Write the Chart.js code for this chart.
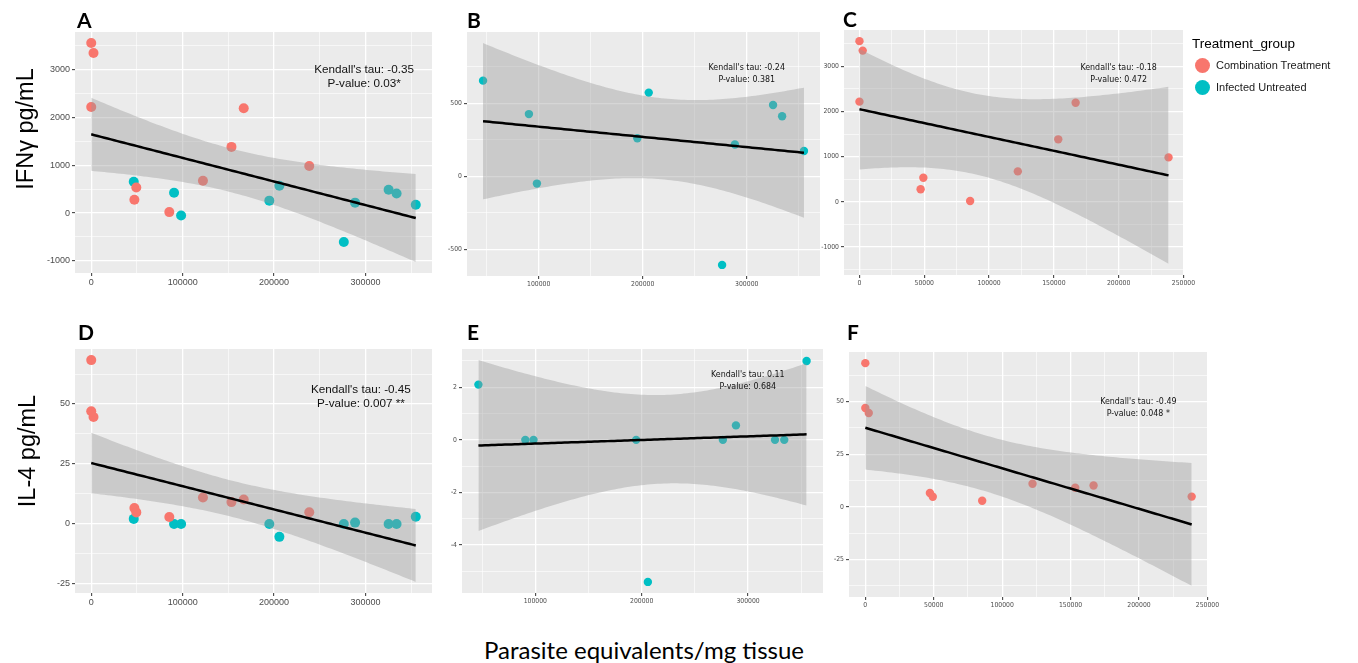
<!DOCTYPE html>
<html><head><meta charset="utf-8">
<script src="https://cdn.jsdelivr.net/npm/chart.js@4.4.1/dist/chart.umd.min.js"></script>
<style>
html,body{margin:0;padding:0;background:#fff;}
body{width:1358px;height:663px;position:relative;overflow:hidden;font-family:'Liberation Sans',Arial,sans-serif;color:#000;}
canvas{position:absolute;}
.t{position:absolute;white-space:nowrap;}
.letter{font-family:Lato,'Liberation Sans',sans-serif;font-weight:bold;font-size:21px;line-height:21px;}
.ytitle{font-size:23.5px;line-height:24px;transform:translate(-50%,-50%) rotate(-90deg);}
.xtitle{font-family:Lato,'Liberation Sans',sans-serif;font-size:24px;line-height:24px;transform:translate(-50%,-50%);}
.dot{position:absolute;width:15px;height:15px;border-radius:50%;}
</style></head><body>
<script>
// ---------- data ----------
const combX   = [0, 2500, 0, 47200, 49300, 85400, 122200, 153400, 166800, 238500];
const combIFN = [3560, 3350, 2220, 280, 535, 20, 675, 1385, 2195, 985];
const combIL4 = [68.3, 44.6, 47.0, 6.6, 4.8, 2.9, 11.0, 9.1, 10.2, 4.9];
const untrX   = [46500, 90600, 98300, 194800, 205800, 276300, 288600, 325300, 334000, 355000];
const untrIFN = [655, 426, -50, 260, 573, -607, 218, 488, 411, 173];
const untrIL4 = [2.1, 0, 0, 0, -5.4, 0, 0.55, 0, 0, 3.0];
const groupNames = ['Combination Treatment', 'Infected Untreated'];
const panelLetters = ['A', 'B', 'C', 'D', 'E', 'F'];
const kendallTau = ['-0.35', '-0.24', '-0.18', '-0.45', '0.11', '-0.49'];
const pValues = ['0.03*', '0.381', '0.472', '0.007 **', '0.684', '0.048 *'];
const yTitles = ['IFN\u03b3 pg/mL', 'IL-4 pg/mL'];
const xTitle = 'Parasite equivalents/mg tissue';
const legendTitle = 'Treatment_group';

// ---------- styling ----------
const RED = '#F8766D', BLUE = '#00BFC4';
const T975 = {8: 2.306, 18: 2.101};
const NARROW = "'Liberation Sans Narrow','DejaVu Sans Condensed','Liberation Sans',sans-serif";
const REG = "'Liberation Sans',Arial,sans-serif";

function fitLM(xs, ys) {
  const n = xs.length;
  const mx = xs.reduce((a, b) => a + b, 0) / n;
  const my = ys.reduce((a, b) => a + b, 0) / n;
  let sxx = 0, sxy = 0;
  for (let i = 0; i < n; i++) { sxx += (xs[i] - mx) ** 2; sxy += (xs[i] - mx) * (ys[i] - my); }
  const b = sxy / sxx, a = my - b * mx;
  let sse = 0;
  for (let i = 0; i < n; i++) sse += (ys[i] - a - b * xs[i]) ** 2;
  const s = Math.sqrt(sse / (n - 2));
  const t = T975[n - 2];
  const lo = Math.min(...xs), hi = Math.max(...xs);
  const line = [], upper = [], lower = [];
  const N = 100;
  for (let i = 0; i < N; i++) {
    const x = lo + (hi - lo) * i / (N - 1);
    const yh = a + b * x;
    const se = s * Math.sqrt(1 / n + (x - mx) ** 2 / sxx);
    line.push({x, y: yh});
    upper.push({x, y: yh + t * se});
    lower.push({x, y: yh - t * se});
  }
  return {line, upper, lower};
}

const bgPlugin = {
  id: 'panelBg',
  beforeDraw(chart) {
    const {ctx, chartArea: c} = chart;
    ctx.save(); ctx.fillStyle = '#EBEBEB';
    ctx.fillRect(c.left, c.top, c.right - c.left, c.bottom - c.top);
    ctx.restore();
  }
};
const annotPlugin = {
  id: 'annot',
  afterDatasetsDraw(chart, args, o) {
    const {ctx, scales: {x, y}} = chart;
    const px = x.getPixelForValue(o.x), py = y.getPixelForValue(o.y);
    ctx.save();
    ctx.font = o.font; ctx.fillStyle = '#111111';
    ctx.textAlign = 'center'; ctx.textBaseline = 'middle';
    ctx.fillText(o.l1, px, py - o.gap / 2);
    ctx.fillText(o.l2, px, py + o.gap / 2);
    ctx.restore();
  }
};

function isMajor(v, step) {
  return Math.abs(v / step - Math.round(v / step)) < 1e-6;
}

function makePanel(p) {
  const xs = [].concat(...p.groups.map(g => g.x));
  const ys = [].concat(...p.groups.map(g => g.y));
  const f = fitLM(xs, ys);
  const xmin = Math.min(...xs), xmax = Math.max(...xs);
  const allY = ys.concat(f.upper.map(d => d.y), f.lower.map(d => d.y));
  const ymin = Math.min(...allY), ymax = Math.max(...allY);
  const ex = (xmax - xmin) * 0.05, ey = (ymax - ymin) * 0.05;

  const [L, T, R, B] = p.rect;
  const YW = 40, PT = 10, PR = 25, XH = 22;
  const cv = document.createElement('canvas');
  cv.width = R - L + YW + PR; cv.height = B - T + PT + XH;
  cv.style.left = (L - YW) + 'px'; cv.style.top = (T - PT) + 'px';
  document.body.appendChild(cv);

  const tickFont = p.big ? {family: REG, size: 9} : {family: NARROW, size: 6.8};
  const axis = (maj, min, max, isX) => ({
    type: 'linear', min, max,
    afterFit: s => { if (isX) s.height = XH; else s.width = YW; },
    afterBuildTicks: s => {
      const half = maj / 2, out = [];
      for (let k = Math.ceil(min / half); k * half <= max; k++) out.push({value: k * half});
      s.ticks = out;
    },
    border: {display: false},
    grid: {
      color: '#FFFFFF',
      lineWidth: c => (c.tick && isMajor(c.tick.value, maj)) ? 1.3 : 0.6,
      tickColor: c => (c.tick && isMajor(c.tick.value, maj)) ? '#333333' : 'rgba(0,0,0,0)',
      tickLength: 3, tickWidth: 1, drawTicks: true
    },
    ticks: {
      autoSkip: false, maxRotation: 0, minRotation: 0,
      padding: isX ? 1 : 2, color: '#4D4D4D', font: tickFont,
      callback: v => isMajor(v, maj) ? String(Math.round(v * 100) / 100) : ''
    }
  });

  const datasets = [
    {data: f.lower, borderColor: 'rgba(0,0,0,0)', borderWidth: 1, pointRadius: 0, fill: false, order: 2, tension: 0},
    {data: f.upper, borderColor: 'rgba(0,0,0,0)', borderWidth: 1, pointRadius: 0, fill: '-1',
     backgroundColor: 'rgba(153,153,153,0.4)', order: 2, tension: 0},
    {data: f.line, borderColor: '#000000', borderWidth: 2.5, pointRadius: 0, fill: false, order: 1, tension: 0}
  ];
  p.groups.forEach(g => datasets.push({
    data: g.x.map((x, i) => ({x, y: g.y[i]})), showLine: false,
    pointRadius: p.big ? 5 : 4.2, pointBackgroundColor: g.color, pointBorderWidth: 0,
    pointBorderColor: g.color, order: 3
  }));

  new Chart(cv, {
    type: 'line',
    data: {datasets},
    plugins: [bgPlugin, annotPlugin],
    options: {
      responsive: false, animation: false, devicePixelRatio: 1,
      layout: {padding: {left: 0, top: PT, right: PR, bottom: 0}},
      scales: {
        x: axis(p.xMaj, xmin - ex, xmax + ex, true),
        y: axis(p.yMaj, ymin - ey, ymax + ey, false)
      },
      plugins: {
        legend: {display: false}, tooltip: {enabled: false},
        annot: {x: p.ann[0], y: p.ann[1], gap: p.big ? 14 : 12,
                font: p.big ? '11.7px ' + REG : '8.8px ' + NARROW,
                l1: "Kendall's tau: " + kendallTau[p.i], l2: 'P-value: ' + pValues[p.i]}
      }
    }
  });

  const lt = document.createElement('div');
  lt.className = 't letter';
  lt.textContent = panelLetters[p.i];
  lt.style.left = p.letter[0] + 'px'; lt.style.top = p.letter[1] + 'px';
  document.body.appendChild(lt);
}

const gComb = (y) => ({x: combX, y, color: RED});
const gUntr = (y) => ({x: untrX, y, color: BLUE});

const panels = [
  {i: 0, rect: [75, 32, 432, 273], groups: [gComb(combIFN), gUntr(untrIFN)], xMaj: 100000, yMaj: 1000, big: true, ann: [298500, 2850], letter: [77, 9]},
  {i: 1, rect: [467, 32, 820, 276], groups: [gUntr(untrIFN)], xMaj: 100000, yMaj: 500, big: false, ann: [300000, 704], letter: [467, 9]},
  {i: 2, rect: [844, 30, 1184, 275], groups: [gComb(combIFN)], xMaj: 50000, yMaj: 1000, big: false, ann: [200000, 2841], letter: [843, 8]},
  {i: 3, rect: [75, 349, 432, 593], groups: [gComb(combIL4), gUntr(untrIL4)], xMaj: 100000, yMaj: 25, big: true, ann: [295000, 52.9], letter: [78, 321]},
  {i: 4, rect: [462, 349, 823, 593], groups: [gUntr(untrIL4)], xMaj: 100000, yMaj: 2, big: false, ann: [299700, 2.23], letter: [467, 321]},
  {i: 5, rect: [849, 352, 1208, 597], groups: [gComb(combIL4)], xMaj: 50000, yMaj: 25, big: false, ann: [199500, 47.0], letter: [847, 321]}
];
panels.forEach(makePanel);

function addText(cls, txt, css) {
  const d = document.createElement('div');
  d.className = 't ' + cls; d.textContent = txt;
  Object.assign(d.style, css);
  document.body.appendChild(d);
  return d;
}
addText('ytitle', yTitles[0], {left: '25px', top: '129px'});
addText('ytitle', yTitles[1], {left: '27px', top: '451px'});
addText('xtitle', xTitle, {left: '644px', top: '650px'});

// legend
addText('', legendTitle, {left: '1192px', top: '36px', fontSize: '13.5px', lineHeight: '16px'});
[[RED, 65], [BLUE, 87]].forEach(([c, cy], k) => {
  const d = document.createElement('div');
  d.className = 'dot'; d.style.background = c;
  d.style.left = (1202 - 7.5) + 'px'; d.style.top = (cy - 7.5) + 'px';
  document.body.appendChild(d);
  addText('', groupNames[k], {left: '1216px', top: (cy - 7) + 'px', fontSize: '11px', lineHeight: '14px', color: '#1a1a1a'});
});
</script>
</body></html>
